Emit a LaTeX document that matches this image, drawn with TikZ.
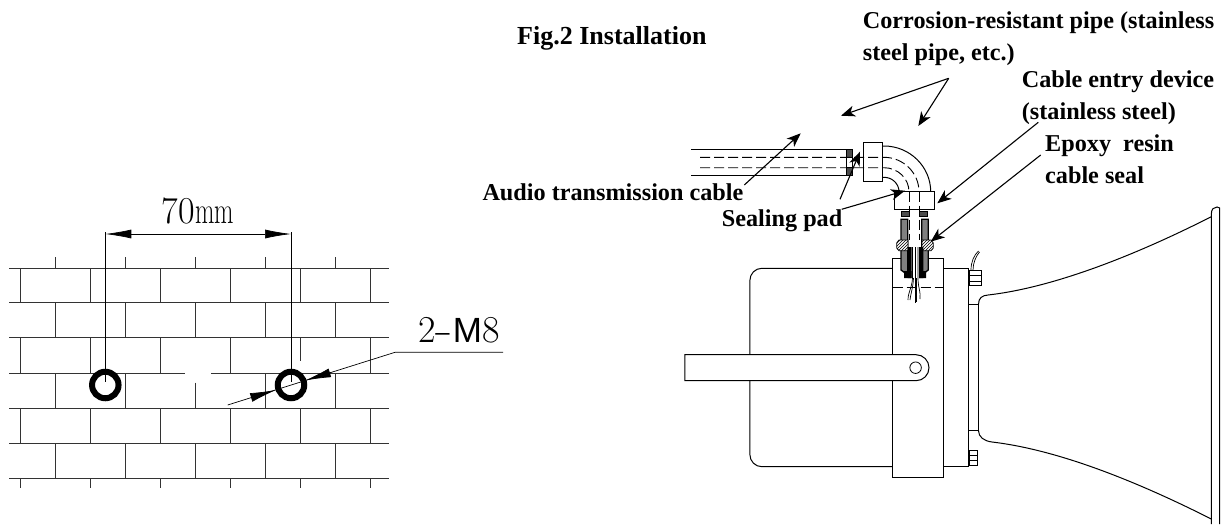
\documentclass[tikz,border=0pt]{standalone}
\usepackage{fontspec}
\usepackage{graphicx}
\setmainfont{Liberation Serif}
\newfontfamily\cadfont{Latin Modern Roman}
\newfontfamily\cadsans{Liberation Sans}
\usetikzlibrary{arrows.meta,patterns}

\begin{document}
\begin{tikzpicture}[x=1pt,y=-1pt,
	brick/.style={black!80, line width=0.9pt},
	thin line/.style={black, line width=0.7pt},
	part/.style={black, line width=1pt, fill=white},
	hidden/.style={black, line width=0.9pt, dash pattern=on 10pt off 4pt},
	label/.style={font=\bfseries\fontsize{24.2}{24}\selectfont, anchor=base west, inner sep=0pt},
	cadlabel/.style={font=\cadfont\fontsize{38}{38}\selectfont, anchor=base west, inner sep=0pt},
	hole/.style={circle, draw, line width=6pt, fill=white, minimum size=26.5pt, inner sep=0pt},
	dimtip/.style={-{Latex[length=26pt,width=9pt]}, line width=0.7pt},
	notetip/.style={-{Stealth[length=14pt,width=11pt,inset=4pt]}, line width=1.1pt},
	hatched/.style={draw=black, line width=0.8pt, pattern=north east lines},
	darkwall/.style={draw=black, line width=1.3pt, fill=black!50},
	darkpad/.style={draw=black, line width=0.8pt, fill=black!70}]
	\useasboundingbox (0,0) rectangle (1224,525);
	% wall
	\draw[brick] (9,268) -- (389,268) (9,302.7) -- (389,302.7) (9,337.7) -- (389,337.7);
	\draw[brick] (9,373) -- (185,373) (211,373) -- (389,373);
	\draw[brick] (9,408.3) -- (389,408.3) (9,443.3) -- (389,443.3) (9,478) -- (389,478);
	\draw[brick] (55.3,257) -- (55.3,268) (125.3,257) -- (125.3,268) (195.7,257) -- (195.7,268) (265.7,257) -- (265.7,268) (335.7,257) -- (335.7,268);
	\draw[brick] (20,268) -- (20,302.7) (90.3,268) -- (90.3,302.7) (160.3,268) -- (160.3,302.7) (230,268) -- (230,302.7) (300.3,268) -- (300.3,302.7) (370.3,268) -- (370.3,302.7);
	\draw[brick] (55.3,302.7) -- (55.3,337.7) (125.3,302.7) -- (125.3,337.7) (195.7,302.7) -- (195.7,337.7) (265.7,302.7) -- (265.7,337.7) (335.7,302.7) -- (335.7,337.7);
	\draw[brick] (20,337.7) -- (20,373) (90.3,337.7) -- (90.3,373) (160.3,337.7) -- (160.3,373) (230,337.7) -- (230,373) (300.3,337.7) -- (300.3,360.7) (370.3,337.7) -- (370.3,373);
	\draw[brick] (55.3,373) -- (55.3,408.3) (125.3,373) -- (125.3,408.3) (195.7,382.7) -- (195.7,408.3) (265.7,373) -- (265.7,408.3) (335.7,373) -- (335.7,408.3);
	\draw[brick] (20,408.3) -- (20,443.3) (90.3,408.3) -- (90.3,443.3) (160.3,408.3) -- (160.3,443.3) (230,408.3) -- (230,443.3) (300.3,408.3) -- (300.3,443.3) (370.3,408.3) -- (370.3,443.3);
	\draw[brick] (55.3,443.3) -- (55.3,478) (125.3,443.3) -- (125.3,478) (195.7,443.3) -- (195.7,478) (265.7,443.3) -- (265.7,478) (335.7,443.3) -- (335.7,478);
	\draw[brick] (20,478) -- (20,488) (90.3,478) -- (90.3,488) (160.3,478) -- (160.3,488) (230,478) -- (230,488) (300.3,478) -- (300.3,488) (370.3,478) -- (370.3,488);
	% holes and dimension
	\node[hole] (holeL) at (105.3,385) {};
	\node[hole] (holeR) at (291,385) {};
	\coordinate (extL) at (105.3,232);
	\coordinate (extR) at (291,232);
	\coordinate (dimL) at (105.3,234);
	\coordinate (dimR) at (291,234);
	\draw[thin line] (extL) -- (105.3,381.7);
	\draw[thin line] (extR) -- (291,381.7);
	\draw[dimtip, {Latex[length=26pt,width=9pt]}-{Latex[length=26pt,width=9pt]}] (dimL) -- (dimR);
	\draw (161,223) node[cadlabel] (dim70) {\scalebox{.95}[1]{7\kern1pt 0}\scalebox{.66}[1]{mm}};
	\draw (418,342) node[cadlabel] (boltsize) {2\scalebox{1.5}[1]{-}{\cadsans\fontsize{35}{35}\selectfont M}8};
	\coordinate (leadEnd) at (503,352.3);
	\coordinate (leadKnee) at (395,352.3);
	\coordinate (leadFree) at (227.7,405);
	\draw[thin line] (leadEnd) -- (leadKnee) -- (leadFree);
	\coordinate (tailR) at (331,372.5);
	\coordinate (tipR) at (305,380.5);
	\coordinate (tailL) at (251,397.5);
	\coordinate (tipL) at (276,390);
	\draw[dimtip] (tailR) -- (tipR);
	\draw[dimtip] (tailL) -- (tipL);
	% pipe
	\draw[part, fill=none] (691,149) -- (846.7,149);
	\draw[part, fill=none] (691,175.3) -- (846.7,175.3);
	\draw[part] (846.7,149) rectangle (852.7,175.3);
	\draw[darkpad] (846.7,149) rectangle (852.7,157.3);
	\draw[darkpad] (846.7,167.7) rectangle (852.7,175.3);
	\draw[hidden] (700,157.3) -- (884,157.3) .. controls (903.2,157.3) and (919,172.8) .. (919,191.7);
	\draw[hidden] (700,167.7) -- (884,167.7) .. controls (897.8,167.7) and (909,178.5) .. (909,191.7);
	\draw[part, fill=none] (882,146) -- (884,146) .. controls (909.7,146) and (930.7,166.6) .. (930.7,191.7);
	\draw[part, fill=none] (882,177.3) -- (884,177.3) .. controls (892.3,177.3) and (899,183.8) .. (899,191.7);
	\draw[part, fill=none] (863.7,142) rectangle (882,181.7);
	% horn body
	\draw[part, rounded corners=12pt] (892.6,268.3) -- (749.9,268.3) -- (749.9,466.7) -- (892.6,466.7);
	\draw[part] (892.6,258.3) rectangle (943.9,477.3);
	\draw[hidden] (892.6,287.3) -- (943.9,287.3);
	\draw[part] (943.9,268.3) rectangle (968.6,466.7);
	\draw[part] (968.6,304.3) rectangle (978.5,430.7);
	\draw[part, fill=none] (978.5,304.3) .. controls (978.5,298) and (982,295.5) .. (988,295) .. controls (1050,288) and (1130,258) .. (1211.3,216.7);
	\draw[part, fill=none] (978.5,430.7) .. controls (978.5,437) and (984,441) .. (992,442) .. controls (1060,450) and (1140,483) .. (1211.3,519);
	\draw[part, fill=none] (1211.3,524) -- (1211.3,214) .. controls (1211.3,209) and (1214,207) .. (1217,207) -- (1219.7,208) -- (1219.7,524);
	\draw[part] (969.6,270) rectangle (981,285.7);
	\draw[thin line] (969.6,275) -- (981,275) (969.6,281) -- (981,281);
	\draw[part] (969.6,450) rectangle (977.4,465);
	\draw[thin line] (969.6,455) -- (977.4,455) (969.6,460) -- (977.4,460);
	\draw[thin line] (971,270) .. controls (971,262) and (974,255) .. (978.5,251);
	\draw[thin line] (973,270) .. controls (973,263) and (976,256) .. (979.5,252);
	% strap
	\draw[part] (684.8,354.7) -- (916,354.7) .. controls (923.2,354.7) and (929,360.5) .. (929,367.7) .. controls (929,374.9) and (923.2,380.7) .. (916,380.7) -- (684.8,380.7) -- cycle;
	\node[circle, draw, line width=0.8pt, minimum size=11.5pt, inner sep=0pt] (strapeye) at (915.6,367.7) {};
	% cable gland
	\draw[part] (894.3,191.7) rectangle (934.3,209.3);
	\draw[darkpad] (901,211) rectangle (927.7,216.3);
	\fill[white] (909.5,210.5) rectangle (919.3,216.8);
	\fill[white] (901,218) rectangle (928.3,276);
	\draw[darkwall] (901,219.3) -- (907.7,219.3) -- (907.7,275) -- (901,270) -- cycle;
	\draw[darkwall] (921.7,219.3) -- (928.3,219.3) -- (928.3,270) -- (921.7,275) -- cycle;
	\fill[white] (896.7,243) -- (899,240) -- (908,240) -- (908,250.7) -- (899,250.7) -- (896.7,248) -- cycle;
	\fill[white] (933.3,243) -- (931,240) -- (922,240) -- (922,250.7) -- (931,250.7) -- (933.3,248) -- cycle;
	\draw[hatched] (896.7,243) -- (899,240) -- (908,240) -- (908,250.7) -- (899,250.7) -- (896.7,248) -- cycle;
	\draw[hatched] (933.3,243) -- (931,240) -- (922,240) -- (922,250.7) -- (931,250.7) -- (933.3,248) -- cycle;
	\fill[black] (907.7,247) rectangle (911.7,278) (919,247) rectangle (923.3,278);
	\fill[black] (904,271) rectangle (911.7,278) (919,271) rectangle (926,278);
	\draw[hidden] (909.3,191.7) -- (909.3,240);
	\draw[hidden] (919.3,191.7) -- (919.3,240);
	\draw[thin line] (912.5,247) -- (912.5,278) .. controls (912,288) and (908,292) .. (908,300);
	\draw[thin line] (915.3,247) -- (915.3,302.7);
	\draw[thin line] (918,247) -- (918,278) .. controls (918,288) and (921,292) .. (920,299);
	\draw[thin line] (913.5,278) .. controls (913,288) and (911,292) .. (910,300);
	\draw[thin line] (916.7,278) -- (916.7,302);
	% notes
	\draw (517,44) node[label, font=\bfseries\fontsize{26}{26}\selectfont] (title) {Fig.2 Installation};
	\draw (862.7,28) node[label] (pipe1) {Corrosion-resistant pipe (stainless};
	\draw (862.7,60) node[label] (pipe2) {steel pipe, etc.)};
	\draw (1021.7,87.7) node[label] (entry1) {Cable entry device};
	\draw (1021.7,119) node[label] (entry2) {(stainless steel)};
	\draw (1045,151.7) node[label] (epoxy1) {Epoxy\ \ resin};
	\draw (1045,183) node[label] (epoxy2) {cable seal};
	\draw (482.3,200) node[label] (audio) {Audio transmission cable};
	\draw (721.7,226.7) node[label] (sealing) {Sealing pad};
	\coordinate (pipeApex) at (948.7,78.3);
	\coordinate (pipeTipA) at (841,115.7);
	\coordinate (pipeTipB) at (918.3,126);
	\coordinate (entryStart) at (1038.3,122.3);
	\coordinate (entryTip) at (937.3,203.3);
	\coordinate (epoxyStart) at (1040.7,155);
	\coordinate (epoxyTip) at (930.7,241.7);
	\coordinate (audioStart) at (744.3,185);
	\coordinate (audioTip) at (800.7,133.3);
	\coordinate (padStartA) at (840,199.3);
	\coordinate (padTipA) at (860,151.7);
	\coordinate (padStartB) at (841.7,209.3);
	\coordinate (padTipB) at (905,190.7);
	\draw[notetip] (pipeApex) -- (pipeTipA);
	\draw[notetip] (pipeApex) -- (pipeTipB);
	\draw[notetip] (entryStart) -- (entryTip);
	\draw[notetip] (epoxyStart) -- (epoxyTip);
	\draw[notetip] (audioStart) -- (audioTip);
	\draw[notetip] (padStartA) -- (padTipA);
	\draw[notetip] (padStartB) -- (padTipB);
\end{tikzpicture}
\end{document}
